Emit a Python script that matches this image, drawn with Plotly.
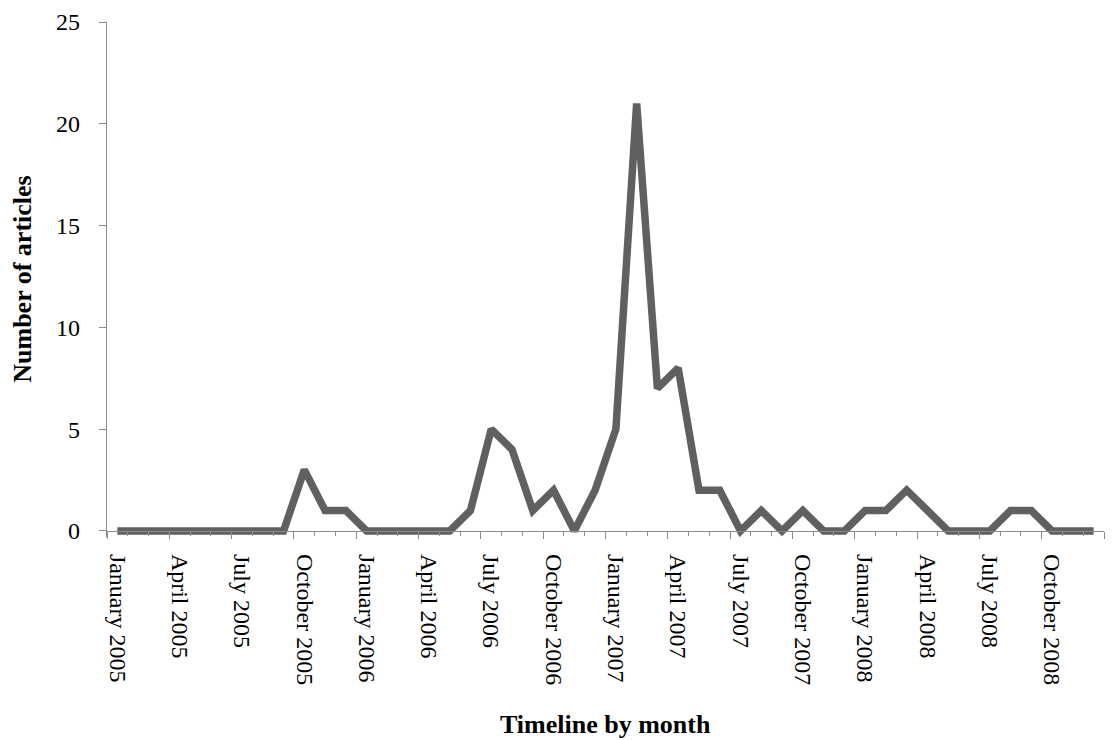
import plotly.graph_objects as go

# Monthly article counts, January 2005 .. December 2008
months = [
    "Jan 2005", "Feb 2005", "Mar 2005", "Apr 2005", "May 2005", "Jun 2005",
    "Jul 2005", "Aug 2005", "Sep 2005", "Oct 2005", "Nov 2005", "Dec 2005",
    "Jan 2006", "Feb 2006", "Mar 2006", "Apr 2006", "May 2006", "Jun 2006",
    "Jul 2006", "Aug 2006", "Sep 2006", "Oct 2006", "Nov 2006", "Dec 2006",
    "Jan 2007", "Feb 2007", "Mar 2007", "Apr 2007", "May 2007", "Jun 2007",
    "Jul 2007", "Aug 2007", "Sep 2007", "Oct 2007", "Nov 2007", "Dec 2007",
    "Jan 2008", "Feb 2008", "Mar 2008", "Apr 2008", "May 2008", "Jun 2008",
    "Jul 2008", "Aug 2008", "Sep 2008", "Oct 2008", "Nov 2008", "Dec 2008",
]
articles = [
    0, 0, 0, 0, 0, 0, 0, 0, 0, 3, 1, 1,
    0, 0, 0, 0, 0, 1, 5, 4, 1, 2, 0, 2,
    5, 21, 7, 8, 2, 2, 0, 1, 0, 1, 0, 0,
    1, 1, 2, 1, 0, 0, 0, 1, 1, 0, 0, 0,
]
tick_labels = [
    "January 2005", "April 2005", "July 2005", "October 2005",
    "January 2006", "April 2006", "July 2006", "October 2006",
    "January 2007", "April 2007", "July 2007", "October 2007",
    "January 2008", "April 2008", "July 2008", "October 2008",
]
y_ticks = [0, 5, 10, 15, 20, 25]

n = len(months)
xs = list(range(n))
label_pos = xs[::3]
boundaries = [i - 0.5 for i in range(0, n + 1, 3)]

FONT = "Liberation Serif"
AXIS_COLOR = "#8a8a8a"
ymin, ymax = -0.3, 25
xpos = (0 - ymin) / (ymax - ymin)

fig = go.Figure()
fig.add_trace(go.Scatter(
    x=xs, y=articles, mode="lines",
    line=dict(color="#606060", width=7.5),
    hoverinfo="skip", showlegend=False,
))
fig.add_trace(go.Scatter(
    x=xs, y=articles, mode="lines", xaxis="x2",
    line=dict(width=0), opacity=0, hoverinfo="skip", showlegend=False,
))

fig.update_layout(
    width=1097, height=732,
    margin=dict(l=99, r=1, t=12, b=203),
    paper_bgcolor="white", plot_bgcolor="white",
    font=dict(family=FONT, size=24, color="black"),
    xaxis=dict(
        range=[-0.5, n - 0.5], anchor="free", position=xpos,
        showline=True, linecolor=AXIS_COLOR, linewidth=1.3,
        tickmode="array", tickvals=boundaries, showticklabels=False,
        ticks="outside", ticklen=7, tickcolor=AXIS_COLOR, tickwidth=1.3,
        minor=dict(tickmode="linear", tick0=-0.5, dtick=1, ticks="outside",
                   ticklen=4, tickcolor=AXIS_COLOR, tickwidth=1.2),
        showgrid=False, zeroline=False,
    ),
    xaxis2=dict(
        range=[-0.5, n - 0.5], overlaying="x", anchor="free", position=xpos,
        side="bottom", showline=False, showgrid=False, zeroline=False,
        tickmode="array", tickvals=label_pos, ticktext=tick_labels,
        ticks="", tickangle=90, ticklabelstandoff=22,
        ticklabeloverflow="allow",
        tickfont=dict(family=FONT, size=24, color="black"),
    ),
    yaxis=dict(
        range=[ymin, ymax], showline=True, linecolor=AXIS_COLOR, linewidth=1.3,
        tickmode="array", tickvals=y_ticks,
        ticks="outside", ticklen=7, tickcolor=AXIS_COLOR, tickwidth=1.3,
        ticklabelstandoff=14, ticklabeloverflow="allow",
        showgrid=False, zeroline=False,
        tickfont=dict(family=FONT, size=24, color="black"),
    ),
    annotations=[
        dict(text="<b>Timeline by month</b>", xref="paper", yref="paper",
             x=0.5, y=-0.3636, xanchor="center", yanchor="middle",
             showarrow=False, font=dict(family=FONT, size=26, color="black")),
        dict(text="<b>Number of articles</b>", xref="paper", yref="paper",
             x=-0.085, y=0.50, xanchor="center", yanchor="middle", textangle=-90,
             showarrow=False, font=dict(family=FONT, size=26, color="black")),
    ],
)

fig.write_html("out.html")
